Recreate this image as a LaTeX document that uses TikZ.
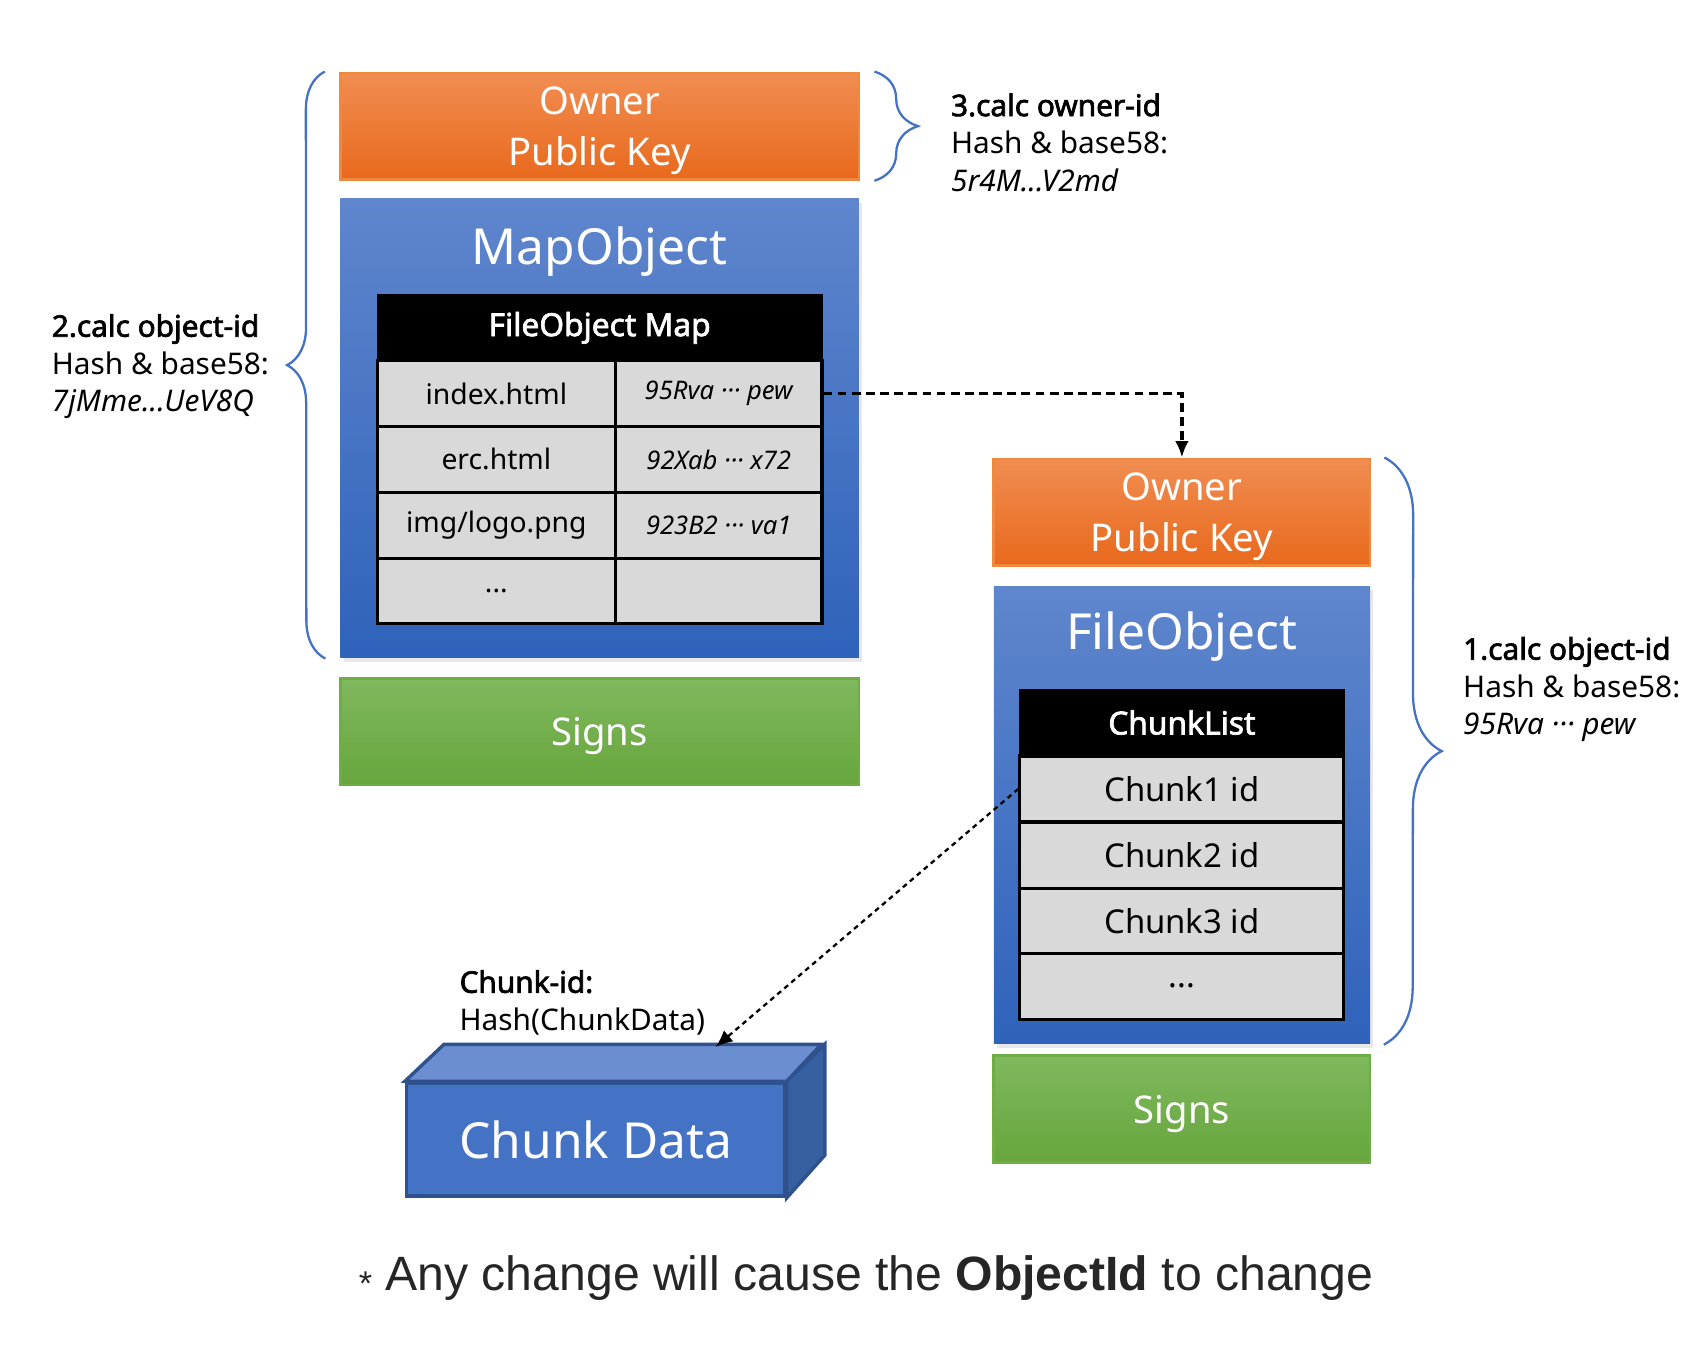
\documentclass[tikz,border=0pt]{standalone}
\usepackage{fontspec}
\setmainfont{Noto Sans}[AutoFakeBold=2.2]
\newfontfamily\notefont{Liberation Sans}
\usetikzlibrary{shadows,decorations.pathreplacing,arrows.meta}

\definecolor{keytop}{HTML}{F18D52}
\definecolor{keybot}{HTML}{E8691C}
\definecolor{keyline}{HTML}{F0883E}
\definecolor{objtop}{HTML}{5F86CD}
\definecolor{objbot}{HTML}{2F62BA}
\definecolor{signtop}{HTML}{80B85E}
\definecolor{signbot}{HTML}{66A63C}
\definecolor{signline}{HTML}{70AD47}
\definecolor{cellgray}{HTML}{D9D9D9}
\definecolor{bracecol}{HTML}{4472C4}
\definecolor{chunkfront}{HTML}{4472C4}
\definecolor{chunktopc}{HTML}{6A8ED0}
\definecolor{chunkside}{HTML}{36609F}
\definecolor{chunkline}{HTML}{2F528F}

\begin{document}
\begin{tikzpicture}[
	keybox/.style={draw=keyline, line width=0.7pt, top color=keytop, bottom color=keybot,
		minimum width=#1, minimum height=0.98cm, inner sep=0pt, align=center, text=white,
		text depth=0pt, font=\fontsize{10}{13.4}\selectfont},
	objbox/.style={top color=objtop, bottom color=objbot, minimum width=#1, inner sep=0pt,
		drop shadow={opacity=0.18, shadow xshift=0.03cm, shadow yshift=-0.04cm}},
	signbox/.style={draw=signline, line width=0.7pt, top color=signtop, bottom color=signbot,
		minimum width=#1, minimum height=0.98cm, inner sep=0pt, text=white,
		text depth=0pt, font=\fontsize{10}{12}\selectfont},
	boxtitle/.style={text=white, inner sep=0pt, font=\fontsize{13}{15}\selectfont},
	headcell/.style={fill=black, draw=black, text=white, minimum width=#1, minimum height=0.61cm,
		inner sep=0pt, font=\bfseries\fontsize{8.3}{10}\selectfont},
	tabcell/.style={fill=cellgray, draw=black, line width=0.8pt, minimum height=0.605cm, inner sep=0pt},
	keycell/.style={tabcell, minimum width=2.19cm, font=\fontsize{7.4}{9}\selectfont},
	hashcell/.style={tabcell, minimum width=1.90cm, font=\itshape\fontsize{6.7}{8}\selectfont},
	chunkcell/.style={tabcell, minimum width=2.98cm, font=\fontsize{8.6}{10}\selectfont},
	notetext/.style={anchor=west, align=left, inner sep=0pt, font=\fontsize{7.8}{9.8}\selectfont},
	idbrace/.style={draw=bracecol, line width=0.6pt, decorate, decoration={brace, amplitude=#1}},
]
	\useasboundingbox (0,0) rectangle (15.69,-12.37);

	% MapObject side
	\node[keybox=4.77cm] (owner1) at (5.515,-1.16) {Owner\\Public Key};
	\node[objbox=4.77cm, minimum height=4.22cm] (mapobj) at (5.515,-3.94) {};
	\node[boxtitle] (maptitle) at (5.515,-2.31) {MapObject};
	\node[headcell=4.09cm] (maphead) at (5.515,-3.015) {FileObject Map};
	\node[keycell] (map1k) at (4.565,-3.62) {index.html};
	\node[hashcell] (map1v) at (6.61,-3.62) {95Rva ··· pew};
	\node[keycell] (map2k) at (4.565,-4.225) {erc.html};
	\node[hashcell] (map2v) at (6.61,-4.225) {92Xab ··· x72};
	\node[keycell] (map3k) at (4.565,-4.83) {img/logo.png};
	\node[hashcell] (map3v) at (6.61,-4.83) {923B2 ··· va1};
	\node[keycell] (map4k) at (4.565,-5.435) {...};
	\node[hashcell] (map4v) at (6.61,-5.435) {};
	\node[signbox=4.77cm] (signs1) at (5.515,-6.73) {Signs};

	% FileObject side
	\node[keybox=3.46cm] (owner2) at (10.87,-4.71) {Owner\\Public Key};
	\node[objbox=3.46cm, minimum height=4.21cm] (fileobj) at (10.87,-7.495) {};
	\node[boxtitle] (filetitle) at (10.87,-5.85) {FileObject};
	\node[headcell=2.98cm] (chunkhead) at (10.87,-6.645) {ChunkList};
	\node[chunkcell] (chunk1) at (10.87,-7.255) {Chunk1 id};
	\node[chunkcell] (chunk2) at (10.87,-7.865) {Chunk2 id};
	\node[chunkcell] (chunk3) at (10.87,-8.47) {Chunk3 id};
	\node[chunkcell] (chunk4) at (10.87,-9.07) {...};
	\node[signbox=3.46cm] (signs2) at (10.87,-10.20) {Signs};

	% chunk data block
	\node[draw=chunkline, line width=0.9pt, fill=chunkfront, minimum width=3.48cm, minimum height=1.04cm,
		text=white, font=\fontsize{13}{15}\selectfont] (chunkdata) at (5.48,-10.48) {Chunk Data};
	\draw[draw=chunkline, line width=0.9pt, fill=chunktopc] (chunkdata.north west) -- ++(0.36,0.34)
		-- ++(3.47,0) -- (chunkdata.north east) -- cycle;
	\draw[draw=chunkline, line width=0.9pt, fill=chunkside] (chunkdata.north east) -- ++(0.35,0.34)
		-- ++(0,-1.02) -- (chunkdata.south east) -- cycle;
	\coordinate (chunktip) at (6.58,-9.63);

	% braces
	\draw[idbrace=0.35cm] ([xshift=-0.13cm]mapobj.south west) -- ([xshift=-0.13cm]owner1.north west);
	\draw[idbrace=0.40cm] ([xshift=0.13cm]owner1.north east) -- ([xshift=0.13cm]owner1.south east);
	\draw[idbrace=0.53cm] ([xshift=0.12cm]owner2.north east) -- ([xshift=0.12cm]fileobj.south east);

	% notes
	\node[notetext] (note2) at (0.47,-3.37) {\textbf{2.calc object-id}\\Hash \& base58:\\\textit{7jMme...UeV8Q}};
	\node[notetext] (note3) at (8.74,-1.31) {\textbf{3.calc owner-id}\\Hash \& base58:\\\textit{5r4M...V2md}};
	\node[notetext] (note1) at (13.45,-6.34) {\textbf{1.calc object-id}\\Hash \& base58:\\\textit{95Rva ··· pew}};
	\node[notetext] (notechunk) at (4.22,-9.22) {\textbf{Chunk-id:}\\Hash(ChunkData)};

	% links
	\draw[line width=0.9pt, dash pattern=on 2.3pt off 1.4pt, -{Latex[length=4.3pt, width=3.6pt]}]
		(map1v.east) -| (owner2.north);
	\draw[line width=0.6pt, dash pattern=on 1.3pt off 1.1pt, -{Latex[length=4.5pt, width=3.8pt]}]
		(chunk1.west) -- (chunktip);

	\node[text=black!85, font=\notefont\fontsize{12.6}{15}\selectfont] (footnote) at (7.965,-11.75)
		{\raisebox{-1.4pt}{\fontsize{9}{10}\selectfont *} Any change will cause the \textbf{ObjectId} to change};
\end{tikzpicture}
\end{document}
